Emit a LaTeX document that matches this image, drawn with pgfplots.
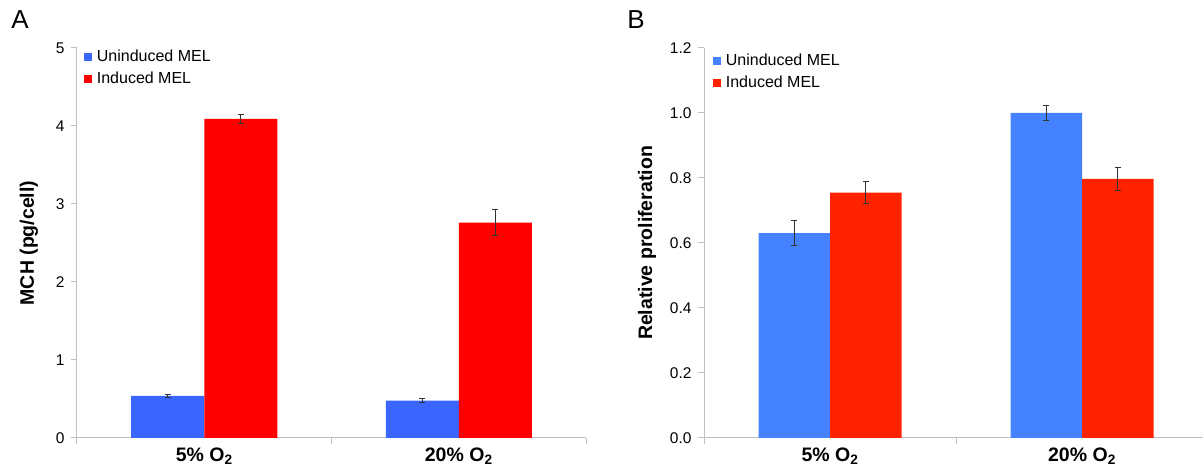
\documentclass[border=0pt]{standalone}
\usepackage{pgfplots}
\pgfplotsset{compat=1.18}
\usepackage{fontspec}
\setmainfont{Liberation Sans}
\definecolor{blueA}{HTML}{3A66FF}
\definecolor{redA}{HTML}{FF0000}
\definecolor{blueB}{HTML}{4482FF}
\definecolor{redB}{HTML}{FF2200}
\definecolor{axgray}{HTML}{BFBFBF}
\pgfplotsset{
 mystyle/.style={
  scale only axis, height=390pt,
  ybar=0pt,
  xmin=-0.5, xmax=1.5, ymin=0,
  axis x line=bottom, axis y line=left,
  axis line style={draw=axgray, line width=1pt, -},
  xtick={0,1},
  xticklabels={\textbf{5\% O\textsubscript{2}},\textbf{20\% O\textsubscript{2}}},
  major x tick style={draw=none},
  minor xtick={-0.5,0.5,1.5},
  tick style={axgray, line width=1pt},
  major tick length=6pt, minor tick length=6pt,
  tick align=outside,
  xticklabel style={font=\fontsize{19.5}{22}\selectfont},
  yticklabel style={font=\fontsize{15.5}{18}\selectfont, xshift=-3pt},
  /pgf/number format/assume math mode=true,
  ylabel style={font=\fontsize{19.5}{22}\selectfont\bfseries, at={(axis description cs:0,0.5)}, anchor=center},
  legend style={draw=none, fill=none, font=\fontsize{16}{19}\selectfont, cells={anchor=west}, at={(0,1)}, anchor=north west, inner sep=0pt, row sep=5pt},
  legend image code/.code={\fill[##1] (0pt,-4pt) rectangle (8pt,4pt);},
  error bars/y dir=both, error bars/y explicit,
  error bars/error bar style={line width=1pt, black!80},
  error bars/error mark options={rotate=90, mark size=3pt, line width=1pt, black!80},
 }
}
\begin{document}
\begin{tikzpicture}[x=1pt,y=1pt]
\path[use as bounding box] (0,0) rectangle (1203,471);
\node at (20,451.5) {\fontsize{26}{30}\selectfont A};
\node at (636,451.5) {\fontsize{26}{30}\selectfont B};
\begin{axis}[mystyle, at={(77pt,33pt)}, anchor=south west, width=509pt,
  ymax=5, ytick={0,1,2,3,4,5}, bar width=73pt,
  ylabel={MCH (pg/cell)}, ylabel style={yshift=48pt},
  legend style={xshift=7pt, yshift=0pt}]
\addplot[fill=blueA, draw=none] coordinates {(0,0.54) +- (0,0.02) (1,0.48) +- (0,0.02)};
\addplot[fill=redA, draw=none] coordinates {(0,4.09) +- (0,0.06) (1,2.76) +- (0,0.17)};
\legend{\,Uninduced MEL, \,Induced MEL}
\end{axis}
\begin{axis}[mystyle, at={(704pt,33pt)}, anchor=south west, width=504pt,
  ymax=1.2, ytick={0,0.2,0.4,0.6,0.8,1.0,1.2}, bar width=71.5pt,
  yticklabel style={/pgf/number format/.cd, fixed, fixed zerofill, precision=1},
  ylabel={Relative proliferation}, ylabel style={yshift=57pt},
  legend style={xshift=9pt, yshift=-4pt}]
\addplot[fill=blueB, draw=none] coordinates {(0,0.63) +- (0,0.038) (1,1.00) +- (0,0.023)};
\addplot[fill=redB, draw=none] coordinates {(0,0.755) +- (0,0.033) (1,0.797) +- (0,0.034)};
\legend{\,Uninduced MEL, \,Induced MEL}
\end{axis}
\end{tikzpicture}
\end{document}
